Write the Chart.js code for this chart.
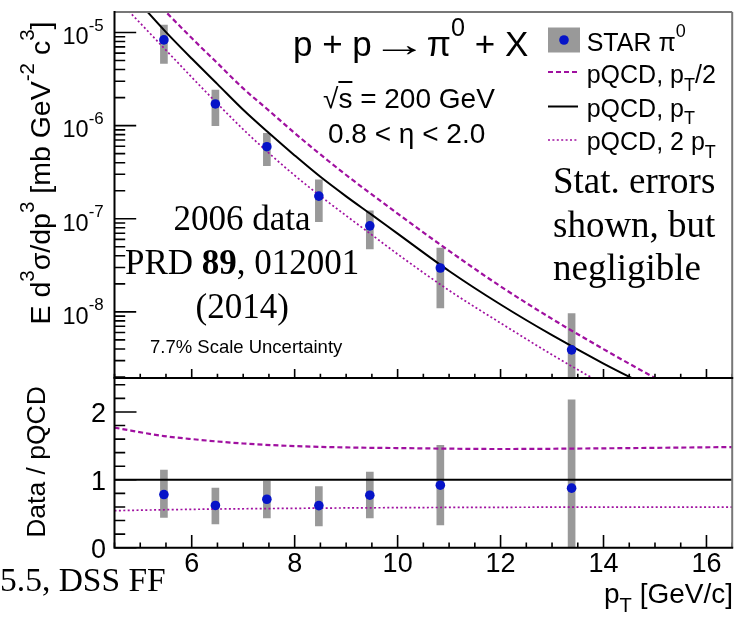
<!DOCTYPE html>
<html>
<head>
<meta charset="utf-8">
<title>STAR pi0 cross section, 0.8 &lt; eta &lt; 2.0</title>
<script src="https://cdn.jsdelivr.net/npm/chart.js@4.4.1/dist/chart.umd.min.js"></script>
<style>
  html, body { margin: 0; padding: 0; background: #fff; }
  #wrap { position: relative; width: 737px; height: 621px; overflow: hidden;
          font-family: "Liberation Sans", Arial, sans-serif; color: #000; }
  #wrap canvas { position: absolute; left: 0; top: 0; }
  .txt { position: absolute; white-space: nowrap; line-height: 1; }
  .serif { font-family: "Liberation Serif", "Times New Roman", serif; }
  .sup { font-size: 0.72em; position: relative; top: -0.8em; }
  .sub { font-size: 0.72em; position: relative; top: 0.42em; }
  .rot { transform: translate(-50%, -50%) rotate(-90deg); }
  .arrow { display: inline-block; transform: scaleX(1.6); margin: 0 10px; }
</style>
</head>
<body>
<div id="wrap">
  <canvas id="ratio" width="737" height="621"></canvas>
  <canvas id="spectrum" width="737" height="621"></canvas>
</div>
<script>
// STAR pi0 points (bin centres in pT)
const ptBins = [5.46, 6.46, 7.46, 8.47, 9.46, 10.83, 13.38];
const starYield = [8.33e-6, 1.71e-6, 5.94e-7, 1.75e-7, 8.39e-8, 2.96e-8, 3.91e-9];
const starSysLow = [4.66e-6, 9.98e-7, 3.72e-7, 9.33e-8, 4.75e-8, 1.10e-8, 1.0e-9];
const starSysHigh = [1.20e-5, 2.41e-6, 8.26e-7, 2.61e-7, 1.22e-7, 4.84e-8, 9.57e-9];

// data / pQCD(mu = pT)
const starRatio = [0.783, 0.622, 0.714, 0.620, 0.773, 0.921, 0.877];
const ratioSysLow = [0.447, 0.349, 0.440, 0.320, 0.440, 0.335, 0.0];
const ratioSysHigh = [1.143, 0.878, 0.980, 0.900, 1.114, 1.509, 2.180];

// NLO pQCD, mu = pT
const pqcdPt = [4.9, 5.5, 6.0, 6.5, 7.0, 7.5, 8.0, 8.5, 9.0, 9.5, 10.0, 11.0, 12.0, 13.0, 14.0, 15.0];
const pqcdMuPt = [2.34e-5, 1.01e-5, 5.25e-6, 2.79e-6, 1.48e-6, 8.32e-7, 4.79e-7, 2.82e-7,
                  1.74e-7, 1.10e-7, 6.92e-8, 2.75e-8, 1.20e-8, 5.62e-9, 2.79e-9, 1.46e-9];
// mu = pT/2
const pqcdHalfPt = [5.2, 5.5, 6.0, 6.5, 7.0, 7.5, 8.0, 8.5, 9.0, 10.0, 11.0, 12.0, 13.0, 14.0, 15.0, 15.5];
const pqcdMuHalf = [2.45e-5, 1.66e-5, 8.71e-6, 4.68e-6, 2.51e-6, 1.45e-6, 8.32e-7, 4.90e-7, 2.95e-7,
                    1.135e-7, 4.52e-8, 1.88e-8, 8.41e-9, 3.98e-9, 1.95e-9, 1.38e-9];
// mu = 2 pT
const pqcdTwoPt = [4.6, 5.0, 5.5, 6.0, 6.5, 7.0, 7.5, 8.0, 8.5, 9.0, 9.5, 10.0, 11.0, 12.0, 13.0, 14.0];
const pqcdMuTwo = [2.14e-5, 1.26e-5, 6.46e-6, 3.31e-6, 1.72e-6, 9.12e-7, 5.06e-7, 2.92e-7, 1.75e-7,
                   1.08e-7, 6.71e-8, 4.17e-8, 1.70e-8, 7.59e-9, 3.47e-9, 1.66e-9];

// scale variations divided by mu = pT
const ratioHalfPt = [4.5, 5.46, 6.0, 7.0, 8.0, 9.0, 10.0, 12.0, 14.0, 16.5];
const ratioHalf = [1.768, 1.645, 1.600, 1.535, 1.497, 1.477, 1.468, 1.454, 1.464, 1.483];
const ratioTwoPt = [4.5, 6.0, 8.0, 10.0, 12.0, 14.0, 16.5];
const ratioTwo = [0.546, 0.565, 0.580, 0.590, 0.595, 0.598, 0.597];
const ratioOnePt = [4.5, 16.5];
const ratioOne = [1, 1];

// axis ticks
const ptRange = [4.5, 16.5];
const ptLabels = [6, 8, 10, 12, 14, 16];
const yieldRange = [1.95e-9, 1.66e-5];
const yieldDecades = [-5, -6, -7, -8];
const ratioRange = [0, 2.5];
const ratioLabels = [0, 1, 2];

const BLUE = "#0614c8";
const GREY = "#999999";
const MAGENTA = "#a010a0";

const pts = (xs, ys) => xs.map((x, i) => ({ x, y: ys[i] }));
const bars = (xs, lo, hi) => xs.map((x, i) => ({ x, y: [lo[i], hi[i]] }));

const solidStyle = { borderColor: "#000", borderWidth: 2, borderDash: [] };
const dashStyle = { borderColor: MAGENTA, borderWidth: 2.2, borderDash: [5, 3] };
const dotStyle = { borderColor: MAGENTA, borderWidth: 1.7, borderDash: [2, 2.4] };

function curve(data, style) {
  return Object.assign({
    type: "line", data, pointRadius: 0, fill: false, clip: 0,
    cubicInterpolationMode: "monotone"
  }, style);
}
function markers(data) {
  return { type: "line", data, showLine: false, pointRadius: 4.8, pointBorderWidth: 0,
           pointBackgroundColor: BLUE, clip: 0 };
}
function sysBars(data) {
  return { type: "bar", data, backgroundColor: GREY, borderWidth: 0, barThickness: 7,
           grouped: false, clip: 0 };
}

// ROOT-like frame: inward ticks on bottom and left axes
const rootFrame = {
  id: "rootFrame",
  afterDatasetsDraw(chart, args, opts) {
    const { ctx, chartArea: a } = chart;
    const x = chart.scales.x, y = chart.scales.y;
    ctx.save();
    ctx.lineWidth = 1.6;
    ctx.strokeStyle = "#000";
    ctx.beginPath();
    for (let v = ptRange[0]; v <= ptRange[1] + 1e-9; v += 0.5) {
      const px = x.getPixelForValue(v);
      const len = (Math.abs(v % 2) < 1e-9) ? opts.xMajor : opts.xMinor;
      ctx.moveTo(px, a.bottom);
      ctx.lineTo(px, a.bottom - len);
    }
    opts.yTicks.forEach(t => {
      const py = y.getPixelForValue(t.v);
      if (py < a.top - 0.5 || py > a.bottom + 0.5) return;
      ctx.moveTo(a.left, py);
      ctx.lineTo(a.left + t.len, py);
    });
    ctx.stroke();

    ctx.lineWidth = 2;
    ctx.strokeStyle = opts.topColor;
    ctx.beginPath();
    ctx.moveTo(a.left, a.top); ctx.lineTo(a.right, a.top);
    ctx.stroke();
    ctx.strokeStyle = "#777";
    ctx.beginPath();
    ctx.moveTo(a.right, a.top); ctx.lineTo(a.right, a.bottom);
    ctx.stroke();
    ctx.strokeStyle = "#000";
    ctx.beginPath();
    ctx.moveTo(a.left, a.top - 1); ctx.lineTo(a.left, a.bottom + 1);
    ctx.moveTo(a.left, a.bottom); ctx.lineTo(a.right + 1, a.bottom);
    ctx.stroke();
    ctx.restore();
  }
};

// legend key symbols, drawn with the same styles as the datasets
const legendKey = {
  id: "legendKey",
  afterDraw(chart) {
    const ctx = chart.ctx;
    ctx.save();
    ctx.fillStyle = GREY;
    ctx.fillRect(548, 27.5, 32, 25);
    ctx.fillStyle = BLUE;
    ctx.beginPath();
    ctx.arc(564, 40, 4.8, 0, Math.PI * 2);
    ctx.fill();
    [[dashStyle, 72], [solidStyle, 106.5], [dotStyle, 140]].forEach(([s, ly]) => {
      ctx.strokeStyle = s.borderColor;
      ctx.lineWidth = s.borderWidth;
      ctx.setLineDash(s.borderDash);
      ctx.beginPath();
      ctx.moveTo(548, ly);
      ctx.lineTo(578, ly);
      ctx.stroke();
    });
    ctx.restore();
  }
};

const logTicks = [];
for (let e = -9; e <= -5; e++) {
  for (let m = 1; m <= 9; m++) logTicks.push({ v: m * Math.pow(10, e), len: m === 1 ? 21.7 : 10.7 });
}
const linTicks = [];
for (let v = 0; v <= 2.5 + 1e-9; v += 0.2) {
  const r = Math.round(v * 10) / 10;
  linTicks.push({ v: r, len: Number.isInteger(r) ? 22 : 10.7 });
}

function baseOptions(padding, yScale, frame) {
  return {
    responsive: false, animation: false, events: [],
    layout: { padding },
    plugins: { legend: { display: false }, tooltip: { enabled: false }, rootFrame: frame },
    scales: {
      // bars would otherwise shift the linear pT axis by half a category
      x: { type: "linear", min: ptRange[0], max: ptRange[1], offset: false,
           grid: { offset: false }, display: false },
      y: Object.assign({ display: false }, yScale)
    }
  };
}

const spectrumChart = new Chart(document.getElementById("spectrum"), {
  type: "line",
  data: {
    datasets: [
      markers(pts(ptBins, starYield)),
      curve(pts(pqcdPt, pqcdMuPt), solidStyle),
      curve(pts(pqcdHalfPt, pqcdMuHalf), dashStyle),
      curve(pts(pqcdTwoPt, pqcdMuTwo), dotStyle),
      sysBars(bars(ptBins, starSysLow, starSysHigh))
    ]
  },
  options: baseOptions({ left: 114.5, top: 12, right: 3, bottom: 243 },
    { type: "logarithmic", min: yieldRange[0], max: yieldRange[1] },
    { xMajor: 9, xMinor: 4.3, yTicks: logTicks, topColor: "#777" }),
  plugins: [rootFrame, legendKey]
});

const ratioChart = new Chart(document.getElementById("ratio"), {
  type: "line",
  data: {
    datasets: [
      markers(pts(ptBins, starRatio)),
      curve(pts(ratioOnePt, ratioOne), solidStyle),
      curve(pts(ratioHalfPt, ratioHalf), dashStyle),
      curve(pts(ratioTwoPt, ratioTwo), dotStyle),
      sysBars(bars(ptBins, ratioSysLow, ratioSysHigh))
    ]
  },
  options: baseOptions({ left: 114.5, top: 378, right: 3, bottom: 73.3 },
    { type: "linear", min: ratioRange[0], max: ratioRange[1] },
    { xMajor: 12.7, xMinor: 5.3, yTicks: linTicks, topColor: "#000" }),
  plugins: [rootFrame]
});

// ---- text ----
const wrap = document.getElementById("wrap");

function addText(html, x, y, size, opt = {}) {
  const el = document.createElement("div");
  el.className = "txt" + (opt.serif ? " serif" : "");
  el.style.fontSize = size + "px";
  el.innerHTML = html;
  wrap.appendChild(el);
  const base = (opt.serif ? 0.8375 : 0.8465) * size;
  let left = x;
  if (opt.align === "right") left = x - el.offsetWidth;
  if (opt.align === "center") left = x - el.offsetWidth / 2;
  el.style.left = left + "px";
  el.style.top = (y - base) + "px";
  return el;
}

// vertical title: baseline at bx, centred on cy
function addVertical(html, bx, cy, size) {
  const el = document.createElement("div");
  el.className = "txt rot";
  el.style.fontSize = size + "px";
  el.innerHTML = html;
  wrap.appendChild(el);
  el.style.left = (bx - (0.8465 - 0.5) * size) + "px";
  el.style.top = cy + "px";
}

const sx = spectrumChart.scales, rx = ratioChart.scales;
yieldDecades.forEach(e => {
  const py = sx.y.getPixelForValue(Math.pow(10, e));
  addText(`10<span class="sup">${e}</span>`, 103.5, py + 12.7, 23.5, { align: "right" });
});
ratioLabels.forEach(v => {
  addText(String(v), 106, rx.y.getPixelForValue(v) + 10.8, 27, { align: "right" });
});
ptLabels.forEach(v => {
  addText(String(v), rx.x.getPixelForValue(v), 572.7, 27, { align: "center" });
});

addVertical('E d<span class="sup">3</span>σ/dp<span class="sup">3</span> [mb GeV<span class="sup">-2</span> c<span class="sup">3</span>]', 50, 173, 28.5);
addVertical("Data / pQCD", 45, 461.7, 26.5);
addText('p<span class="sub">T</span> [GeV/c]', 733, 604, 28, { align: "right" });

addText('p + p<span class="arrow">→</span>π<span class="sup">0</span> + X', 293, 56, 35);
addText('√<span style="text-decoration: overline;">s</span> = 200 GeV', 323, 108.3, 28);
addText("0.8 &lt; η &lt; 2.0", 328, 143.3, 28);

addText('STAR π<span class="sup">0</span>', 586.7, 51.5, 25);
addText('pQCD, p<span class="sub">T</span>/2', 586.7, 83.5, 25);
addText('pQCD, p<span class="sub">T</span>', 586.7, 117, 25);
addText('pQCD, 2 p<span class="sub">T</span>', 586.7, 150.5, 25);

addText("Stat. errors", 553, 193.4, 37, { serif: true });
addText("shown, but", 553, 236.9, 37, { serif: true });
addText("negligible", 553, 280.4, 37, { serif: true });

addText("2006 data", 242, 230.5, 35, { serif: true, align: "center" });
addText("PRD <b>89</b>, 012001", 242, 274.5, 35, { serif: true, align: "center" });
addText("(2014)", 242, 318.5, 35, { serif: true, align: "center" });
addText("7.7% Scale Uncertainty", 150, 354, 18.5);

addText("5.5, DSS FF", 166, 590.7, 33.5, { serif: true, align: "right" });
</script>
</body>
</html>
